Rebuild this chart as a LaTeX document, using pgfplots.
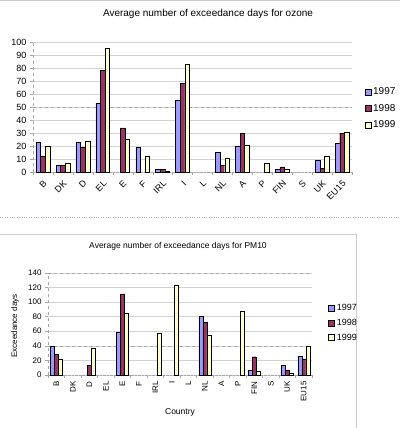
\documentclass[border=0pt]{standalone}
\usepackage{pgfplots}
\pgfplotsset{compat=1.18}
\usepackage{fontspec}
\setmainfont{Liberation Sans}
\definecolor{cA}{HTML}{9999FF}
\definecolor{cB}{HTML}{993366}
\definecolor{cC}{HTML}{FFFFCC}
\begin{document}
\begin{tikzpicture}[x=1pt,y=1pt]
\useasboundingbox (0,0) rectangle (400,-428);
\fill[white] (0,0) rectangle (400,-428);
\draw[gray!40] (0,-0.3) -- (400,-0.3);
\draw[gray!60, dotted] (0,-217) -- (400,-217);
\draw[gray!40] (0.3,-234) -- (355.7,-234) -- (355.7,-427.7) -- (0.3,-427.7);
\pgfplotsset{
  every axis/.append style={
    scale only axis, ybar=0pt, ymin=0, xmin=-0.5, xmax=15.5,
    xtick={0,...,15},
    xticklabels={B,DK,D,EL,E,F,IRL,I,L,NL,A,P,FIN,S,UK,EU15},
    major x tick style={draw=none},
    minor xtick={-0.5,0.5,...,15.5},
    minor x tick style={draw=gray!70},
    tick align=outside, minor tick length=3pt, major tick length=3pt,
    ytick style={draw=gray!70},
    axis x line*=bottom, axis y line*=left,
    x axis line style={gray!70, densely dotted, -},
    y axis line style={gray!70, dashed, -},
    ymajorgrids, grid style={gray!35},
    extra y tick labels={},
    extra y tick style={grid=major, major grid style={gray!70, dashed}, tick style={draw=none}},
    legend cell align=left,
    legend image code/.code={\draw[#1,draw=black,line width=0.4pt] (0pt,-3pt) rectangle (6pt,3pt);},
    /pgf/number format/assume math mode=true,
  },
}
% ---------- Ozone ----------
\node[font=\fontsize{10}{10}\selectfont] at (208,-14) {Average number of exceedance days for ozone};
\begin{axis}[at={(33pt,-172pt)}, anchor=south west, width=319pt, height=130pt,
  ymax=100, ytick={0,10,...,100}, bar width=4.6pt,
  extra y ticks={50},
  x tick label style={rotate=45, anchor=north east, font=\fontsize{9}{9}\selectfont},
  y tick label style={font=\fontsize{9}{9}\selectfont},
  legend style={at={(1.03,0.49)}, anchor=west, draw=none, fill=none,
    font=\fontsize{10}{10}\selectfont, row sep=4pt},
]
\addplot[fill=cA, draw=black, line width=0.4pt] coordinates {
 (0,23) (1,5) (2,23) (3,53) (5,19) (6,2) (7,55) (9,15) (10,20) (12,2) (14,9) (15,22)};
\addplot[fill=cB, draw=black, line width=0.4pt] coordinates {
 (0,12) (1,5) (2,19) (3,78) (4,34) (6,2) (7,68) (9,5) (10,30) (12,4) (14,3) (15,30)};
\addplot[fill=cC, draw=black, line width=0.4pt] coordinates {
 (0,20) (1,7) (2,24) (3,95) (4,25) (5,12) (6,1) (7,83) (9,11) (10,21) (11,7) (12,2) (14,12) (15,31)};
\legend{1997,1998,1999}
\end{axis}
% ---------- PM10 ----------
\node[font=\fontsize{8.5}{8.5}\selectfont] at (178,-246) {Average number of exceedance days for PM10};
\node[font=\fontsize{8}{8}\selectfont, rotate=90] at (15,-326) {Exceedance days};
\node[font=\fontsize{8.5}{8.5}\selectfont] at (180,-412) {Country};
\begin{axis}[at={(48pt,-375pt)}, anchor=south west, width=264pt, height=102.3pt,
  ymax=140, ytick={0,20,...,140}, bar width=4pt,
  extra y ticks={40,140},
  x tick label style={rotate=90, anchor=east, font=\fontsize{8}{8}\selectfont},
  y tick label style={font=\fontsize{8}{8}\selectfont},
  legend style={at={(1.05,0.51)}, anchor=west, draw=none, fill=none,
    font=\fontsize{9}{9}\selectfont, row sep=3pt},
]
\addplot[fill=cA, draw=black, line width=0.4pt] coordinates {
 (0,39) (4,58) (9,80) (12,7) (14,13) (15,26)};
\addplot[fill=cB, draw=black, line width=0.4pt] coordinates {
 (0,28) (2,13) (4,111) (9,72) (12,25) (14,7) (15,22)};
\addplot[fill=cC, draw=black, line width=0.4pt] coordinates {
 (0,22) (2,36) (4,84) (6,57) (7,123) (9,55) (11,88) (12,5) (14,3) (15,40)};
\legend{1997,1998,1999}
\end{axis}
\end{tikzpicture}
\end{document}
